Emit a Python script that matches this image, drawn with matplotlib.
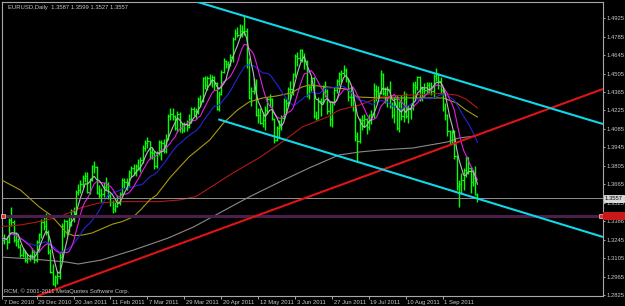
import numpy as np
import pandas as pd
import matplotlib.pyplot as plt
from matplotlib.patches import Rectangle
from matplotlib.transforms import offset_copy

# --- EURUSD daily bars (open, high, low, close), 7 Dec 2010 .. 22 Sep 2011 ---
dec_2010 = [
    (1.3400, 1.3440, 1.3255, 1.3265), (1.3265, 1.3320, 1.3215, 1.3245),
    (1.3245, 1.3290, 1.3215, 1.3250), (1.3250, 1.3275, 1.3175, 1.3225),
    (1.3225, 1.3410, 1.3220, 1.3390), (1.3390, 1.3495, 1.3350, 1.3375),
    (1.3375, 1.3395, 1.3225, 1.3240), (1.3240, 1.3305, 1.3200, 1.3235),
    (1.3235, 1.3260, 1.3180, 1.3190), (1.3190, 1.3215, 1.3110, 1.3130),
    (1.3130, 1.3180, 1.3110, 1.3150), (1.3150, 1.3165, 1.3075, 1.3090),
    (1.3090, 1.3140, 1.3070, 1.3105), (1.3105, 1.3135, 1.3080, 1.3110),
    (1.3110, 1.3185, 1.3100, 1.3150), (1.3150, 1.3165, 1.3070, 1.3090),
    (1.3090, 1.3240, 1.3075, 1.3225), (1.3225, 1.3295, 1.3150, 1.3285),
    (1.3285, 1.3400, 1.3255, 1.3380),
]
jan_2011 = [
    (1.3380, 1.3420, 1.3320, 1.3350), (1.3350, 1.3450, 1.3280, 1.3300),
    (1.3300, 1.3320, 1.3135, 1.3150), (1.3150, 1.3170, 1.2990, 1.3000),
    (1.3000, 1.3060, 1.2900, 1.2910), (1.2910, 1.2980, 1.2885, 1.2960),
    (1.2960, 1.3010, 1.2905, 1.2970), (1.2970, 1.3145, 1.2945, 1.3110),
    (1.3110, 1.3370, 1.3080, 1.3350), (1.3350, 1.3400, 1.3265, 1.3385),
    (1.3385, 1.3390, 1.3280, 1.3320), (1.3320, 1.3415, 1.3300, 1.3380),
    (1.3380, 1.3480, 1.3350, 1.3460), (1.3460, 1.3490, 1.3380, 1.3450),
    (1.3450, 1.3620, 1.3420, 1.3610), (1.3610, 1.3670, 1.3580, 1.3620),
    (1.3620, 1.3700, 1.3600, 1.3670), (1.3670, 1.3735, 1.3640, 1.3710),
    (1.3710, 1.3760, 1.3680, 1.3730), (1.3730, 1.3760, 1.3600, 1.3605),
    (1.3605, 1.3715, 1.3590, 1.3700),
]
feb_2011 = [
    (1.3700, 1.3810, 1.3690, 1.3800), (1.3800, 1.3840, 1.3750, 1.3795),
    (1.3795, 1.3805, 1.3590, 1.3600), (1.3600, 1.3660, 1.3560, 1.3580),
    (1.3580, 1.3640, 1.3530, 1.3590), (1.3590, 1.3680, 1.3570, 1.3645),
    (1.3645, 1.3720, 1.3620, 1.3670), (1.3670, 1.3685, 1.3550, 1.3580),
    (1.3580, 1.3600, 1.3500, 1.3530), (1.3530, 1.3545, 1.3445, 1.3480),
    (1.3480, 1.3530, 1.3455, 1.3500), (1.3500, 1.3580, 1.3490, 1.3525),
    (1.3525, 1.3605, 1.3510, 1.3590), (1.3590, 1.3710, 1.3580, 1.3700),
    (1.3700, 1.3715, 1.3640, 1.3680), (1.3680, 1.3710, 1.3620, 1.3660),
    (1.3660, 1.3775, 1.3650, 1.3760), (1.3760, 1.3800, 1.3720, 1.3790),
    (1.3790, 1.3820, 1.3735, 1.3755), (1.3755, 1.3820, 1.3730, 1.3800),
]
mar_2011 = [
    (1.3800, 1.3860, 1.3770, 1.3780), (1.3780, 1.3870, 1.3760, 1.3850),
    (1.3850, 1.3960, 1.3830, 1.3940), (1.3940, 1.4000, 1.3920, 1.3980),
    (1.3980, 1.4020, 1.3940, 1.3990), (1.3990, 1.3995, 1.3860, 1.3910),
    (1.3910, 1.3940, 1.3860, 1.3905), (1.3905, 1.3920, 1.3780, 1.3800),
    (1.3800, 1.3920, 1.3790, 1.3900), (1.3900, 1.4000, 1.3885, 1.3985),
    (1.3985, 1.4000, 1.3850, 1.3975), (1.3975, 1.4010, 1.3900, 1.3920),
    (1.3920, 1.4050, 1.3905, 1.4010), (1.4010, 1.4200, 1.4000, 1.4180),
    (1.4180, 1.4245, 1.4150, 1.4200), (1.4200, 1.4240, 1.4150, 1.4180),
    (1.4180, 1.4190, 1.4080, 1.4090), (1.4090, 1.4220, 1.4060, 1.4200),
    (1.4200, 1.4210, 1.4060, 1.4090), (1.4090, 1.4130, 1.4055, 1.4080),
    (1.4080, 1.4140, 1.4060, 1.4120), (1.4120, 1.4150, 1.4070, 1.4100),
    (1.4100, 1.4200, 1.4090, 1.4160),
]
apr_2011 = [
    (1.4160, 1.4250, 1.4130, 1.4235), (1.4235, 1.4250, 1.4180, 1.4220),
    (1.4220, 1.4240, 1.4160, 1.4215), (1.4215, 1.4330, 1.4200, 1.4310),
    (1.4310, 1.4340, 1.4250, 1.4300), (1.4300, 1.4480, 1.4290, 1.4475),
    (1.4475, 1.4490, 1.4390, 1.4420), (1.4420, 1.4490, 1.4380, 1.4470),
    (1.4470, 1.4500, 1.4420, 1.4440), (1.4440, 1.4495, 1.4400, 1.4480),
    (1.4480, 1.4490, 1.4380, 1.4430), (1.4430, 1.4440, 1.4230, 1.4235),
    (1.4235, 1.4370, 1.4220, 1.4350), (1.4350, 1.4530, 1.4340, 1.4520),
    (1.4520, 1.4620, 1.4510, 1.4600), (1.4600, 1.4610, 1.4550, 1.4580),
    (1.4580, 1.4600, 1.4530, 1.4575), (1.4575, 1.4650, 1.4560, 1.4630),
    (1.4630, 1.4780, 1.4590, 1.4770), (1.4770, 1.4840, 1.4760, 1.4810),
    (1.4810, 1.4860, 1.4780, 1.4800),
]
may_2011 = [
    (1.4800, 1.4880, 1.4780, 1.4830), (1.4830, 1.4870, 1.4780, 1.4830),
    (1.4830, 1.4940, 1.4800, 1.4830), (1.4830, 1.4850, 1.4550, 1.4580),
    (1.4580, 1.4620, 1.4310, 1.4320), (1.4320, 1.4400, 1.4260, 1.4370),
    (1.4370, 1.4470, 1.4350, 1.4400), (1.4400, 1.4460, 1.4180, 1.4190),
    (1.4190, 1.4240, 1.4130, 1.4190), (1.4190, 1.4240, 1.4120, 1.4130),
    (1.4130, 1.4210, 1.4100, 1.4150), (1.4150, 1.4260, 1.4080, 1.4230),
    (1.4230, 1.4330, 1.4200, 1.4310), (1.4310, 1.4350, 1.4250, 1.4310),
    (1.4310, 1.4320, 1.4150, 1.4160), (1.4160, 1.4170, 1.3975, 1.4000),
    (1.4000, 1.4110, 1.3990, 1.4090), (1.4090, 1.4150, 1.4020, 1.4100),
    (1.4100, 1.4190, 1.4080, 1.4170), (1.4170, 1.4320, 1.4160, 1.4300),
    (1.4300, 1.4310, 1.4210, 1.4280), (1.4280, 1.4400, 1.4260, 1.4390),
]
jun_2011 = [
    (1.4390, 1.4450, 1.4310, 1.4390), (1.4390, 1.4510, 1.4340, 1.4500),
    (1.4500, 1.4650, 1.4480, 1.4640), (1.4640, 1.4670, 1.4560, 1.4620),
    (1.4620, 1.4690, 1.4600, 1.4680), (1.4680, 1.4690, 1.4590, 1.4630),
    (1.4630, 1.4660, 1.4540, 1.4600), (1.4600, 1.4610, 1.4330, 1.4340),
    (1.4340, 1.4420, 1.4310, 1.4400), (1.4400, 1.4480, 1.4370, 1.4470),
    (1.4470, 1.4480, 1.4170, 1.4180), (1.4180, 1.4220, 1.4150, 1.4170),
    (1.4170, 1.4330, 1.4160, 1.4300), (1.4300, 1.4320, 1.4180, 1.4290),
    (1.4290, 1.4420, 1.4280, 1.4400), (1.4400, 1.4450, 1.4330, 1.4370),
    (1.4370, 1.4390, 1.4200, 1.4220), (1.4220, 1.4300, 1.4110, 1.4160),
    (1.4160, 1.4300, 1.4100, 1.4290), (1.4290, 1.4400, 1.4270, 1.4380),
    (1.4380, 1.4460, 1.4360, 1.4450), (1.4450, 1.4520, 1.4410, 1.4500),
]
jul_2011 = [
    (1.4500, 1.4530, 1.4440, 1.4510), (1.4510, 1.4570, 1.4490, 1.4530),
    (1.4530, 1.4550, 1.4440, 1.4460), (1.4460, 1.4470, 1.4300, 1.4330),
    (1.4330, 1.4400, 1.4260, 1.4330), (1.4330, 1.4350, 1.4220, 1.4260),
    (1.4260, 1.4270, 1.3990, 1.4030), (1.4030, 1.4060, 1.3835, 1.3990),
    (1.3990, 1.4170, 1.3980, 1.4150), (1.4150, 1.4190, 1.4080, 1.4150),
    (1.4150, 1.4200, 1.4100, 1.4160), (1.4160, 1.4170, 1.4050, 1.4100),
    (1.4100, 1.4200, 1.4080, 1.4150), (1.4150, 1.4230, 1.4120, 1.4200),
    (1.4200, 1.4430, 1.4170, 1.4380), (1.4380, 1.4420, 1.4300, 1.4370),
    (1.4370, 1.4410, 1.4320, 1.4360), (1.4360, 1.4530, 1.4350, 1.4500),
    (1.4500, 1.4510, 1.4340, 1.4360), (1.4360, 1.4400, 1.4280, 1.4330),
    (1.4330, 1.4410, 1.4250, 1.4390),
]
aug_2011 = [
    (1.4390, 1.4450, 1.4240, 1.4270), (1.4270, 1.4290, 1.4170, 1.4190),
    (1.4190, 1.4330, 1.4130, 1.4310), (1.4310, 1.4340, 1.4080, 1.4090),
    (1.4090, 1.4300, 1.4060, 1.4290), (1.4290, 1.4340, 1.4150, 1.4180),
    (1.4180, 1.4370, 1.4140, 1.4310), (1.4310, 1.4360, 1.4170, 1.4180),
    (1.4180, 1.4270, 1.4130, 1.4240), (1.4240, 1.4280, 1.4160, 1.4240),
    (1.4240, 1.4440, 1.4230, 1.4420), (1.4420, 1.4450, 1.4330, 1.4400),
    (1.4400, 1.4490, 1.4380, 1.4480), (1.4480, 1.4490, 1.4300, 1.4320),
    (1.4320, 1.4400, 1.4300, 1.4390), (1.4390, 1.4430, 1.4330, 1.4380),
    (1.4380, 1.4440, 1.4350, 1.4420), (1.4420, 1.4440, 1.4360, 1.4390),
    (1.4390, 1.4440, 1.4340, 1.4370), (1.4370, 1.4500, 1.4320, 1.4490),
    (1.4490, 1.4550, 1.4450, 1.4500), (1.4500, 1.4510, 1.4390, 1.4450),
    (1.4450, 1.4480, 1.4350, 1.4380),
]
sep_2011 = [
    (1.4380, 1.4400, 1.4220, 1.4240), (1.4240, 1.4280, 1.4150, 1.4190),
    (1.4190, 1.4200, 1.4030, 1.4070), (1.4070, 1.4080, 1.3970, 1.4000),
    (1.4000, 1.4080, 1.3970, 1.4060), (1.4060, 1.4080, 1.3860, 1.3880),
    (1.3880, 1.3890, 1.3620, 1.3650), (1.3650, 1.3700, 1.3495, 1.3670),
    (1.3670, 1.3750, 1.3600, 1.3700), (1.3700, 1.3790, 1.3620, 1.3770),
    (1.3770, 1.3880, 1.3720, 1.3870), (1.3870, 1.3875, 1.3740, 1.3790),
    (1.3790, 1.3795, 1.3600, 1.3680), (1.3680, 1.3770, 1.3650, 1.3710),
    (1.3710, 1.3800, 1.3580, 1.3590), (1.3587, 1.3599, 1.3527, 1.3557),
]

# long moving averages (bar index, price)
ma55_bar = [0, 9, 17, 22, 26, 29, 32, 36, 40, 45, 49, 53, 58, 61, 65, 68, 74, 82,
            91, 97, 103, 108, 114, 120, 126, 131, 134, 142, 150, 155, 165, 179,
            192, 198, 202, 207]
ma55_val = [1.3705, 1.3621, 1.3495, 1.3432, 1.3356, 1.3295, 1.3275, 1.3280, 1.3295,
            1.3333, 1.3363, 1.3381, 1.3419, 1.3470, 1.3546, 1.3584, 1.3720, 1.3872,
            1.4001, 1.4130, 1.4228, 1.4289, 1.4320, 1.4335, 1.4357, 1.4403, 1.4418,
            1.4403, 1.4388, 1.4327, 1.4320, 1.4320, 1.4320, 1.4282, 1.4228, 1.4175]
ma100_bar = [0, 9, 17, 26, 35, 43, 52, 61, 69, 78, 85, 101, 113, 123, 131, 142,
             147, 156, 165, 173, 182, 191, 198, 202, 207]
ma100_val = [1.3343, 1.3356, 1.3381, 1.3419, 1.3485, 1.3523, 1.3533, 1.3533, 1.3533,
             1.3546, 1.3571, 1.3750, 1.3872, 1.3993, 1.4099, 1.4175, 1.4228, 1.4266,
             1.4327, 1.4338, 1.4346, 1.4354, 1.4342, 1.4312, 1.4244]
ma200_bar = [0, 14, 29, 34, 44, 58, 73, 84, 108, 123, 134, 147, 156, 165, 179, 194,
             199, 206]
ma200_val = [1.3113, 1.3098, 1.3075, 1.3060, 1.3090, 1.3166, 1.3257, 1.3341, 1.3568,
             1.3697, 1.3788, 1.3887, 1.3910, 1.3925, 1.3940, 1.3986, 1.4016, 1.4031]

# drawn objects: (bar, price) anchors
trend_red = [(16.3, 1.2817), (261.4, 1.4388)]
channel_top = [(85.4, 1.5050), (261.4, 1.4122)]
channel_bottom = [(94.7, 1.4158), (261.4, 1.3265)]
level_line = 1.3426
bid = 1.3557

price_ticks = [1.4925, 1.4785, 1.4645, 1.4505, 1.4365, 1.4225, 1.4085, 1.3945,
               1.3805, 1.3665, 1.3525, 1.3386, 1.3245, 1.3105, 1.2965, 1.2825]
date_ticks = [1, 16, 32, 48, 64, 80, 96, 112, 128, 144, 160, 176, 192]
date_labels = ["7 Dec 2010", "29 Dec 2010", "20 Jan 2011", "11 Feb 2011",
               "7 Mar 2011", "29 Mar 2011", "20 Apr 2011", "12 May 2011",
               "3 Jun 2011", "27 Jun 2011", "19 Jul 2011", "10 Aug 2011",
               "1 Sep 2011"]

bars = np.array(dec_2010 + jan_2011 + feb_2011 + mar_2011 + apr_2011 + may_2011
                + jun_2011 + jul_2011 + aug_2011 + sep_2011)
o, h, l, c = bars.T
idx = np.arange(len(c))
close = pd.Series(c)

plt.rcParams['font.family'] = ['Liberation Sans', 'DejaVu Sans']
FG = '#c8c8c8'
FS = 4.2

fig = plt.figure(figsize=(6.25, 3.06), dpi=100, facecolor='black')
ax = fig.add_axes([2 / 625, 10 / 306, 601 / 625, 294 / 306], facecolor='black')
ax.set_xlim(1.0, 261.4)
ax.set_ylim(1.28171, 1.50479)

# bars
bar_col = '#00ff00'
ax.vlines(idx, l, h, color=bar_col, lw=1.0, zorder=2)
ax.hlines(o, idx - 0.5, idx, color=bar_col, lw=0.9, zorder=2)
ax.hlines(c, idx, idx + 0.5, color=bar_col, lw=0.9, zorder=2)

# moving averages
ax.plot(ma200_bar, ma200_val, color='#8a8a8a', lw=0.8, zorder=3)
ax.plot(ma100_bar, ma100_val, color='#b01818', lw=0.8, zorder=3)
ax.plot(ma55_bar, ma55_val, color='#a89a10', lw=0.8, zorder=3)
ax.plot(idx, close.rolling(21, min_periods=1).mean(), color='#2424d8', lw=0.8, zorder=3)
ax.plot(idx, close.rolling(10, min_periods=1).mean(), color='#e020e0', lw=0.8, zorder=3)
ax.plot(idx, close.rolling(5, min_periods=1).mean(), color='#b8b8b8', lw=0.8, zorder=3)

# horizontal levels
ax.axhline(level_line, color='#4a1f4a', lw=2.2, zorder=3)
ax.axhline(bid, color='#909090', lw=0.7, zorder=3)
ax.plot([1.6, 260.5], [level_line, level_line], ls='none', marker='s', ms=2.2,
        mfc='#e03030', mec='white', mew=0.4, zorder=4, clip_on=False)

# trend line and channel
for line, col in [(trend_red, '#e01414'), (channel_top, '#10d8e8'),
                  (channel_bottom, '#10d8e8')]:
    xs, ys = zip(*line)
    ax.plot(xs, ys, color=col, lw=1.5, zorder=4, solid_capstyle='butt')

# axes styling
for s in ax.spines.values():
    s.set_color('#a8a8a8')
    s.set_linewidth(0.8)
ax.yaxis.tick_right()
ax.set_yticks(price_ticks)
ax.set_yticklabels([f"{p:.4f}" for p in price_ticks])
ax.set_xticks(date_ticks)
ax.set_xticklabels(date_labels)
ax.tick_params(axis='both', colors='#a8a8a8', labelcolor=FG, labelsize=FS,
               length=2.0, width=0.7, direction='out')
ax.tick_params(axis='y', pad=0.8, length=1.5)
ax.tick_params(axis='x', pad=1.0)
for lab in ax.get_xticklabels():
    lab.set_horizontalalignment('left')
    lab.set_transform(offset_copy(lab.get_transform(), fig=fig, x=1.5, y=0, units='dots'))

# price labels on the scale
ax.text(1.003, bid, f"{bid:.4f}", transform=ax.get_yaxis_transform(), fontsize=FS,
        color='black', va='center', ha='left', zorder=6, clip_on=False,
        bbox=dict(boxstyle='square,pad=0.2', facecolor='#d8d8d8', edgecolor='white', lw=0.5))
half = 4.2 / 1317.9
ax.add_patch(Rectangle((1.0, level_line - half), 22 / 601, 2 * half,
                       transform=ax.get_yaxis_transform(), facecolor='#c81818',
                       edgecolor='none', clip_on=False, zorder=6))

# captions
fig.text(8 / 625, 1 - 7 / 306, "EURUSD,Daily  1.3587 1.3599 1.3527 1.3557",
         color=FG, fontsize=FS, va='center', ha='left')
fig.text(4 / 625, 1 - 291 / 306, "RCM, © 2001-2011 MetaQuotes Software Corp.",
         color=FG, fontsize=FS, va='center', ha='left')

fig.savefig('out.png', dpi=100, facecolor='black')
